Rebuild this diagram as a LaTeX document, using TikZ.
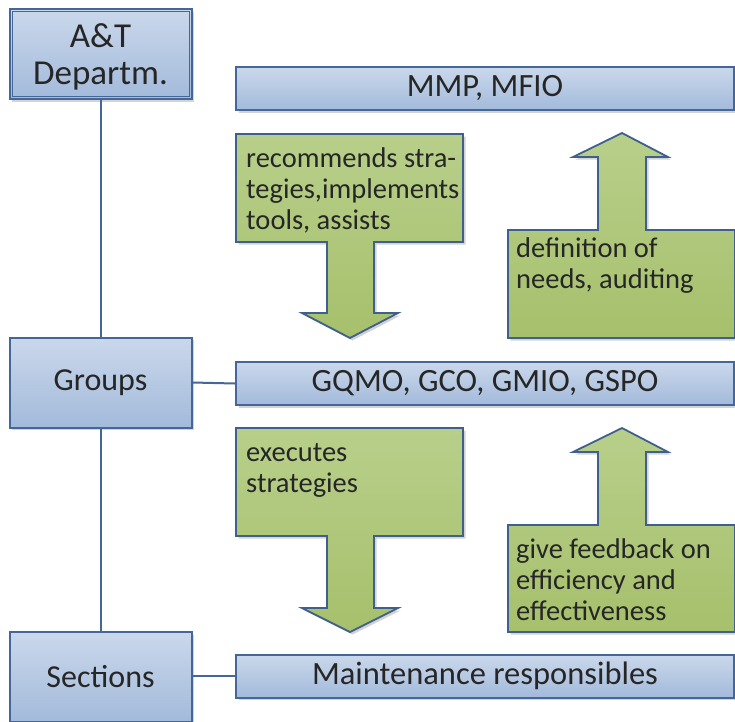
\documentclass[tikz,border=0pt]{standalone}
\usepackage{fontspec}
\setmainfont{Carlito}
\usetikzlibrary{shadows}
\definecolor{bluetop}{HTML}{CAD8EB}
\definecolor{bluebot}{HTML}{A3BADB}
\definecolor{blueline}{HTML}{456797}
\definecolor{greentop}{HTML}{B8CF8A}
\definecolor{greenbot}{HTML}{A6C06C}
\definecolor{greenline}{HTML}{3F5F8C}
\tikzset{
  bluebox/.style={draw=blueline, line width=2pt, top color=bluetop, bottom color=bluebot,
    drop shadow={shadow xshift=2.5pt, shadow yshift=-2.5pt, opacity=0.35},
    inner sep=0pt, align=center, text=black!85},
  sidebox/.style={bluebox, minimum width=182pt, minimum height=90pt, font=\fontsize{32}{38}\selectfont},
  barbox/.style={bluebox, minimum width=498pt, minimum height=43pt, font=\fontsize{32.5}{38}\selectfont},
  greenshape/.style={draw=greenline, line width=1.8pt, top color=greentop, bottom color=greenbot,
    drop shadow={shadow xshift=2.5pt, shadow yshift=-2.5pt, opacity=0.35}, line join=miter},
  gtext/.style={font=\fontsize{28.5}{31}\selectfont, align=left, anchor=north west, inner sep=0pt, text=black!85},
  conn/.style={draw=blueline, line width=2pt},
}
\begin{document}
\begin{tikzpicture}[x=1pt,y=-1pt]
\useasboundingbox (0,0) rectangle (735,721);
\clip (0,0) rectangle (735,721);

% left boxes
\node[sidebox, font=\fontsize{35}{41}\selectfont, text depth=0pt] (atd) at (100.5,54) {\raisebox{-3pt}{A\&T}\\[-1pt]Departm.};
\draw[blueline, line width=0.9pt] ([xshift=3.5pt,yshift=-3.5pt]atd.north west) rectangle ([xshift=-3.5pt,yshift=3.5pt]atd.south east);
\node[sidebox] (grp) at (100.5,382.5) {Groups};
\node[sidebox] (sec) at (100.5,677) {Sections};

% bars
\node[barbox] (mmp) at (485,88.5) {MMP, MFIO};
\node[barbox] (gqmo) at (485,383.5) {GQMO, GCO, GMIO, GSPO};
\node[barbox] (mnt) at (485,676) {Maintenance responsibles};

% connectors
\draw[conn] (atd.south) -- (grp.north);
\draw[conn] (grp.south) -- (sec.north);
\draw[conn] (grp.east) -- (gqmo.west);
\draw[conn] (sec.east |- mnt.west) -- (mnt.west);

% green arrows: down 1
\path[greenshape] (236,134) -- (463,134) -- (463,242) -- (374,242) -- (374,313) -- (398,313)
  -- (350,338) -- (302,313) -- (327,313) -- (327,242) -- (236,242) -- cycle;
\node[gtext] (t1) at (246,148) {recommends stra-\\tegies,implements\\tools, assists};

% up 1
\path[greenshape] (508,338) -- (508,230) -- (598,230) -- (598,157) -- (573,157) -- (622,133)
  -- (668,157) -- (646,157) -- (646,230) -- (735,230) -- (735,338) -- cycle;
\node[gtext] (t2) at (516,238) {definition of\\needs, auditing};

% down 2
\path[greenshape] (236,428) -- (463,428) -- (463,536) -- (374,536) -- (374,608) -- (398,608)
  -- (350,632) -- (302,608) -- (327,608) -- (327,536) -- (236,536) -- cycle;
\node[gtext] (t3) at (246,443) {executes\\strategies};

% up 2
\path[greenshape] (508,632) -- (508,525) -- (598,525) -- (598,452) -- (573,452) -- (622,428)
  -- (668,452) -- (646,452) -- (646,525) -- (735,525) -- (735,632) -- cycle;
\node[gtext] (t4) at (516,538) {give feedback on\\efficiency and\\effectiveness};
\end{tikzpicture}
\end{document}
